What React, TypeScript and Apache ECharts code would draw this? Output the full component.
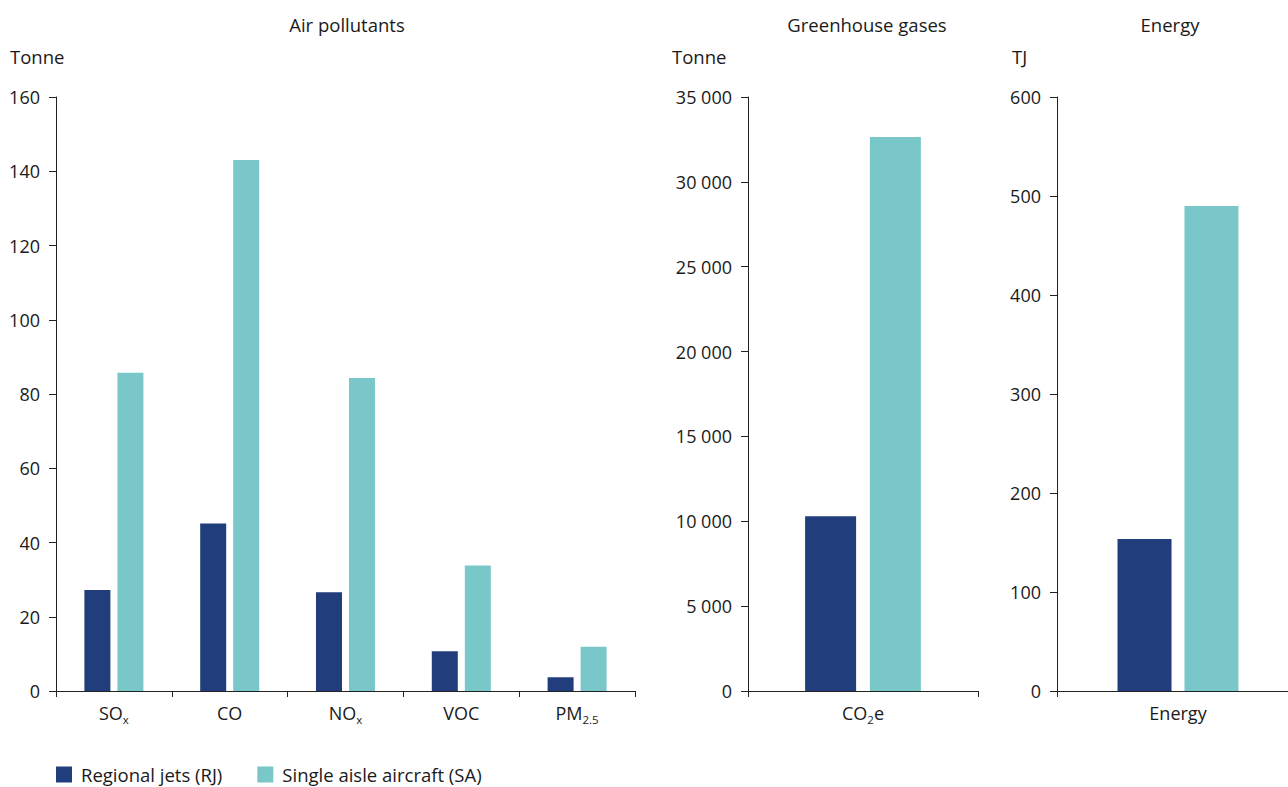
import React, { useEffect, useRef } from "react";
import * as echarts from "echarts";

const seriesNames = ["Regional jets (RJ)", "Single aisle aircraft (SA)"];

const airCategories = ["SO_{x}", "CO", "NO_{x}", "VOC", "PM_{2.5}"];
const airRJ = [27.2, 45.1, 26.6, 10.7, 3.7];
const airSA = [85.7, 143.0, 84.3, 33.8, 11.9];

const ghgCategories = ["CO_{2}e"];
const ghgRJ = [10300];
const ghgSA = [32650];

const energyCategories = ["Energy"];
const energyRJ = [153.5];
const energySA = [490];

const panelTitles = ["Air pollutants", "Greenhouse gases", "Energy"];
const unitLabels = ["Tonne", "Tonne", "TJ"];

const COLORS = ["#213d7b", "#79c7c9"];
const TEXT = "#1a1a1a";
const FONT = "'Open Sans', 'Noto Sans', sans-serif";

const toRich = (s: string) => s.replace(/_\{([^}]*)\}/g, "{s|$1}");
const thousands = (v: number) => String(v).replace(/\B(?=(\d{3})+(?!\d))/g, " ");

const grids = [
  { left: 56, width: 579, top: 97, height: 594 },
  { left: 748, width: 230, top: 97, height: 594 },
  { left: 1057, width: 242, top: 97, height: 594 },
];

export default function App() {
  const ref = useRef<HTMLDivElement>(null);
  useEffect(() => {
    if (!ref.current) return;
    const chart = echarts.init(ref.current, null, { renderer: "svg" });
    const axisLine = { show: true, lineStyle: { color: "#222", width: 1 } };
    const catAxis = (gridIndex: number, data: string[]) => ({
      type: "category",
      gridIndex,
      data,
      axisLine,
      axisTick: { show: true, length: 6, lineStyle: { color: "#222" } },
      axisLabel: {
        color: TEXT,
        fontFamily: FONT,
        fontSize: 18,
        margin: 13,
        formatter: (v: string) => toRich(v),
        rich: {
          s: {
            fontSize: 11.5,
            fontFamily: FONT,
            color: TEXT,
            lineHeight: 12,
            padding: [12, 0, 0, 0],
          },
        },
      },
    });
    const valAxis = (gridIndex: number, max: number, interval: number, fmt?: (v: number) => string) => ({
      type: "value",
      gridIndex,
      min: 0,
      max,
      interval,
      axisLine,
      axisTick: { show: true, length: 7, lineStyle: { color: "#222" } },
      splitLine: { show: false },
      axisLabel: {
        color: TEXT,
        fontFamily: FONT,
        fontSize: 18,
        margin: 16,
        formatter: fmt ? fmt : (v: number) => String(v),
      },
    });
    const barSeries = (name: string, idx: number, data: number[], color: string, barWidth: number, barGap: string) => ({
      type: "bar",
      name,
      xAxisIndex: idx,
      yAxisIndex: idx,
      data,
      barWidth,
      barGap,
      itemStyle: { color },
    });
    const titleX = [347, 867, 1170];
    const unitX = [10, 672, 1012];
    const graphic: any[] = [];
    panelTitles.forEach((t, i) => {
      graphic.push({
        type: "text",
        x: titleX[i],
        y: 24,
        style: {
          text: t,
          fill: TEXT,
          font: `18.5px ${FONT}`,
          textAlign: "center",
          textVerticalAlign: "middle",
        },
      });
    });
    unitLabels.forEach((t, i) => {
      graphic.push({
        type: "text",
        x: unitX[i],
        y: 56,
        style: {
          text: t,
          fill: TEXT,
          font: `18.5px ${FONT}`,
          textAlign: "left",
          textVerticalAlign: "middle",
        },
      });
    });
    chart.setOption({
      animation: false,
      backgroundColor: "#ffffff",
      textStyle: { fontFamily: FONT },
      grid: grids,
      xAxis: [
        catAxis(0, airCategories),
        catAxis(1, ghgCategories),
        catAxis(2, energyCategories),
      ],
      yAxis: [
        valAxis(0, 160, 20),
        valAxis(1, 35000, 5000, (v: number) => thousands(v)),
        valAxis(2, 600, 100),
      ],
      legend: {
        data: seriesNames,
        left: 56,
        top: 765,
        padding: 0,
        itemWidth: 16,
        itemHeight: 16,
        itemGap: 35,
        icon: "rect",
        textStyle: { color: TEXT, fontFamily: FONT, fontSize: 18.5, padding: [0, 0, 0, 4] },
      },
      graphic,
      series: [
        barSeries(seriesNames[0], 0, airRJ, COLORS[0], 26, "27%"),
        barSeries(seriesNames[1], 0, airSA, COLORS[1], 26, "27%"),
        barSeries(seriesNames[0], 1, ghgRJ, COLORS[0], 51, "27%"),
        barSeries(seriesNames[1], 1, ghgSA, COLORS[1], 51, "27%"),
        barSeries(seriesNames[0], 2, energyRJ, COLORS[0], 54, "24%"),
        barSeries(seriesNames[1], 2, energySA, COLORS[1], 54, "24%"),
      ],
    });
    return () => chart.dispose();
  }, []);
  return (
    <div
      style={{
        position: "absolute",
        left: 0,
        top: 0,
        width: 1288,
        height: 787,
        overflow: "hidden",
        background: "#fff",
      }}
    >
      <div
        ref={ref}
        style={{ position: "absolute", left: 0, top: 0, width: 1310, height: 787, background: "#fff" }}
      />
    </div>
  );
}
